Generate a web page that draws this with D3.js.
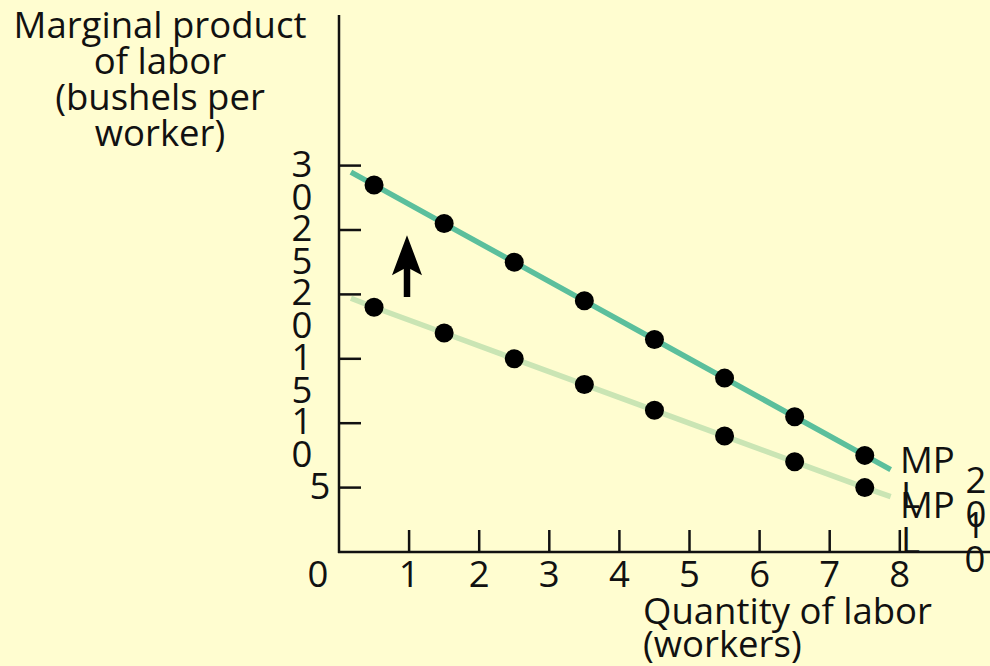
<!DOCTYPE html>
<html>
<head>
<meta charset="utf-8">
<script src="https://cdn.jsdelivr.net/npm/d3@7"></script>
<style>
  html, body { margin: 0; padding: 0; background: #fffdd0; }
  svg { display: block; }
  text { font-family: "Open Sans", sans-serif; fill: #111; }
</style>
</head>
<body>
<svg id="chart" width="990" height="666"></svg>
<script>
// ---- data ----
const workers = [0.5, 1.5, 2.5, 3.5, 4.5, 5.5, 6.5, 7.5];
const mpHigh = [28.5, 25.5, 22.5, 19.5, 16.5, 13.5, 10.5, 7.5];
const mpLow  = [19, 17, 15, 13, 11, 9, 7, 5];
const lineExtent = [0.17, 7.87];
const highEnds = [29.5, 6.4];
const lowEnds  = [19.7, 4.3];
const xTicks = [1, 2, 3, 4, 5, 6, 7, 8];
const yTicks = [5, 10, 15, 20, 25, 30];
const yTickLabels = ["5", "10", "15", "20", "25", "30"];
const arrowFrom = [0.97, 19.8];
const arrowTo = [0.97, 24.6];
const yTitle = ["Marginal product", "of labor", "(bushels per", "worker)"];
const xTitle = ["Quantity of labor", "(workers)"];

const svg = d3.select("#chart");
const ox = 339, oy = 552;
const x = d3.scaleLinear().domain([0, 8]).range([ox, ox + 8 * 70.1]);
const y = d3.scaleLinear().domain([0, 30]).range([oy, oy - 30 * 12.88]);

const ink = "#111";
const fs = 36.5;

// axes lines
svg.append("line").attr("x1", ox).attr("x2", ox).attr("y1", 15).attr("y2", oy + 1)
  .attr("stroke", ink).attr("stroke-width", 2.5);
svg.append("line").attr("x1", ox - 1).attr("x2", 990).attr("y1", oy).attr("y2", oy)
  .attr("stroke", ink).attr("stroke-width", 2.5);

// y ticks (inward)
svg.selectAll(".yt").data(yTicks).enter().append("line")
  .attr("x1", ox).attr("x2", ox + 22)
  .attr("y1", d => y(d)).attr("y2", d => y(d))
  .attr("stroke", ink).attr("stroke-width", 2.5);
// x ticks (inward)
svg.selectAll(".xt").data(xTicks).enter().append("line")
  .attr("x1", d => x(d)).attr("x2", d => x(d))
  .attr("y1", oy).attr("y2", oy - 22)
  .attr("stroke", ink).attr("stroke-width", 2.5);

// y tick labels (wrapped, one char per line)
yTicks.forEach((t, i) => {
  const lab = yTickLabels[i];
  const chars = lab.split("");
  const cx = chars.length > 1 ? 302 : 320;
  const txt = svg.append("text").attr("text-anchor", "middle").attr("font-size", fs);
  chars.forEach((c, j) => {
    txt.append("tspan").attr("x", cx).attr("y", y(t) + 11 + j * 33).text(c);
  });
});

// x tick labels
svg.append("text").attr("x", 318).attr("y", 587).attr("text-anchor", "middle")
  .attr("font-size", fs).text("0");
svg.selectAll(".xl").data(xTicks).enter().append("text")
  .attr("x", d => x(d)).attr("y", 587).attr("text-anchor", "middle")
  .attr("font-size", fs).text(d => d);

// lines
const lineGen = d3.line().x(d => x(d[0])).y(d => y(d[1]));
function series(vals, ends) {
  return [[lineExtent[0], ends[0]]].concat(workers.map((w, i) => [w, vals[i]])).concat([[lineExtent[1], ends[1]]]);
}
svg.append("path").attr("d", lineGen(series(mpLow, lowEnds)))
  .attr("fill", "none").attr("stroke", "#cae5b4").attr("stroke-width", 5.5);
svg.append("path").attr("d", lineGen(series(mpHigh, highEnds)))
  .attr("fill", "none").attr("stroke", "#5bbf9c").attr("stroke-width", 5.5);

// dots
[mpHigh, mpLow].forEach(vals => {
  svg.selectAll(null).data(workers).enter().append("circle")
    .attr("cx", d => x(d)).attr("cy", (d, i) => y(vals[i])).attr("r", 9.5)
    .attr("fill", "#000");
});

// arrow
const ax = x(arrowFrom[0]), ay0 = y(arrowFrom[1]), ay1 = y(arrowTo[1]);
svg.append("line").attr("x1", ax).attr("x2", ax).attr("y1", ay0).attr("y2", ay1 + 25)
  .attr("stroke", "#000").attr("stroke-width", 6.5);
svg.append("path")
  .attr("d", `M${ax},${ay1} L${ax + 15},${ay1 + 40} L${ax},${ay1 + 32} L${ax - 15},${ay1 + 40} Z`)
  .attr("fill", "#000");

// MP labels
function mpLabel(x0, yb) {
  const t = svg.append("text").attr("font-size", fs);
  t.append("tspan").attr("x", x0).attr("y", yb).text("MP");
  t.append("tspan").attr("x", x0 + 1).attr("y", yb + 35).text("L");
}
mpLabel(900, 473);
mpLabel(900, 518);

// right-side stacked labels
function stacked(str, cx, yb) {
  const t = svg.append("text").attr("font-size", fs).attr("text-anchor", "middle");
  str.split("").forEach((c, j) => t.append("tspan").attr("x", cx).attr("y", yb + j * 34).text(c));
}
stacked("20", 976, 493);
stacked("10", 975, 538);

// y title
const yt = svg.append("text").attr("text-anchor", "middle").attr("font-size", fs);
yTitle.forEach((s, i) => yt.append("tspan").attr("x", 160).attr("y", 38 + i * 36).text(s));

// x title (left-aligned)
const xtt = svg.append("text").attr("text-anchor", "start").attr("font-size", fs);
xTitle.forEach((s, i) => xtt.append("tspan").attr("x", 643).attr("y", 624 + i * 33).text(s));
</script>
</body>
</html>
